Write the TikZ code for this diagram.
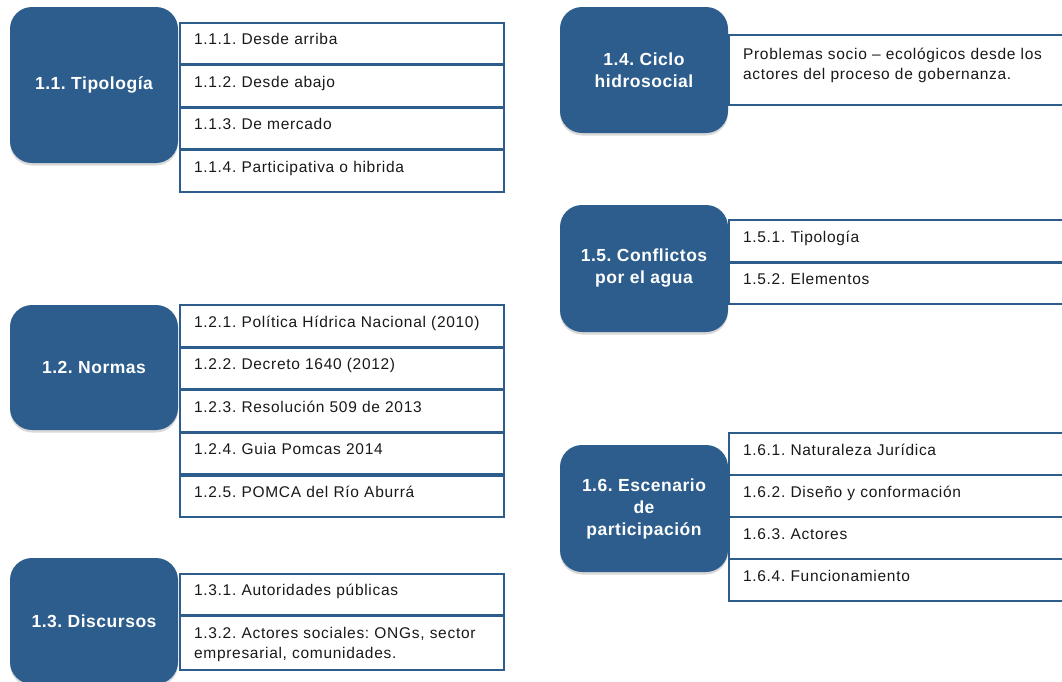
\documentclass[tikz,border=0pt]{standalone}
\usepackage{fontspec}
\setmainfont{Liberation Sans}
\newfontfamily\filafont[LetterSpace=4.5]{Liberation Sans}
\newfontfamily\temafont[LetterSpace=3]{Liberation Sans}
\usetikzlibrary{shadows}
\definecolor{azul}{RGB}{44,93,140}
\frenchspacing

\begin{document}
\begin{tikzpicture}[x=1pt,y=-1pt,
		tema/.style={fill=azul,rounded corners=22pt,minimum width=168pt,inner sep=2pt,text=white,align=center,
			font=\temafont\bfseries\fontsize{17.5}{22}\selectfont,
			drop shadow={shadow xshift=0pt,shadow yshift=-2.5pt,opacity=0.3}},
		fila/.style={draw=azul,line width=2.2pt,fill=white,anchor=north west,inner xsep=14pt,inner ysep=0pt,
			text width=296pt,text height=22pt,text depth=19.5pt,align=left,text=black!90,
			font=\filafont\fontsize{15.5}{20}\selectfont},
		filader/.style={fila,text width=372pt}
		]
		\useasboundingbox (0,0) rectangle (1062,681);
		\clip (0,0) rectangle (1062,681);
		
		% columna izquierda
		\node[tema,minimum height=156pt] (t11) at (94,85) {1.1. Tipología};
		\node[fila] (f111) at (179,21.5)  {1.1.1. Desde arriba};
		\node[fila] (f112) at (179,64)    {1.1.2. Desde abajo};
		\node[fila] (f113) at (179,106.5) {1.1.3. De mercado};
		\node[fila] (f114) at (179,149)   {1.1.4. Participativa o hibrida};
		
		\node[tema,minimum height=125pt] (t12) at (94,367.5) {1.2. Normas};
		\node[fila] (f121) at (179,304)   {1.2.1. Política Hídrica Nacional (2010)};
		\node[fila] (f122) at (179,346.6) {1.2.2. Decreto 1640 (2012)};
		\node[fila] (f123) at (179,389.2) {1.2.3. Resolución 509 de 2013};
		\node[fila] (f124) at (179,431.8) {1.2.4. Guia Pomcas 2014};
		\node[fila] (f125) at (179,474.4) {1.2.5. POMCA del Río Aburrá};
		
		\node[tema,minimum height=126pt] (t13) at (94,621) {1.3. Discursos};
		\node[fila] (f131) at (179,572.5) {1.3.1. Autoridades públicas};
		\node[fila,text depth=32pt] (f132) at (179,615) {1.3.2. Actores sociales: ONGs, sector\\empresarial, comunidades.};
		
		% columna derecha
		\node[tema,minimum height=126pt] (t14) at (644,70) {1.4. Ciclo\\hidrosocial};
		\node[filader,text height=24pt,text depth=46pt] (f141) at (728,34)
			{Problemas socio – ecológicos desde los\\actores del proceso de gobernanza.};
		
		\node[tema,minimum height=127pt] (t15) at (644,268.5) {1.5. Conflictos\\por el agua};
		\node[filader] (f151) at (728,219)   {1.5.1. Tipología};
		\node[filader] (f152) at (728,261.5) {1.5.2. Elementos};
		
		\node[tema,minimum height=127pt] (t16) at (644,508.5) {1.6. Escenario\\de\\participación};
		\node[filader] (f161) at (728,432) {1.6.1. Naturaleza Jurídica};
		\node[filader] (f162) at (728,474) {1.6.2. Diseño y conformación};
		\node[filader] (f163) at (728,516) {1.6.3. Actores};
		\node[filader] (f164) at (728,558) {1.6.4. Funcionamiento};
	\end{tikzpicture}
\end{document}
